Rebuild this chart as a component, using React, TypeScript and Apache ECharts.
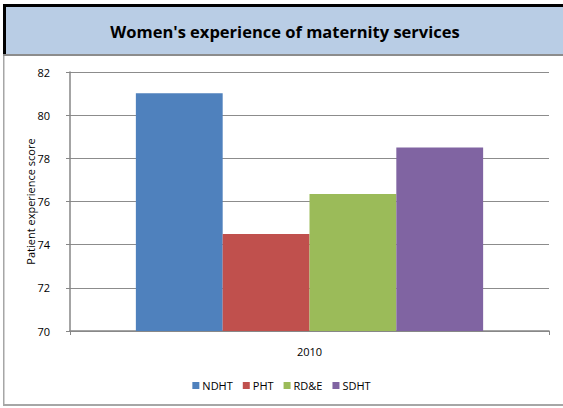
import React, { useEffect, useRef } from "react";
import * as echarts from "echarts";

const categories = ["2010"];
const seriesNames = ["NDHT", "PHT", "RD&E", "SDHT"];
const seriesValues = [[81.02], [74.5], [76.35], [78.5]];
const seriesColors = ["#4f81bd", "#c0504d", "#9bbb59", "#8064a2"];
const titleText = "Women's experience of maternity services";
const yAxisName = "Patient experience score";

export default function App() {
  const ref = useRef<HTMLDivElement>(null);
  useEffect(() => {
    if (!ref.current) return;
    const chart = echarts.init(ref.current, undefined, { renderer: "svg" });
    const font = "'Open Sans', 'Noto Sans', sans-serif";
    chart.setOption({
      animation: false,
      backgroundColor: "#ffffff",
      textStyle: { fontFamily: font },
      graphic: [
        { type: "rect", shape: { x: 4, y: 6, width: 559, height: 49 }, style: { fill: "#b9cde5" } },
        { type: "rect", shape: { x: 3, y: 4, width: 560, height: 3 }, style: { fill: "#000000" } },
        { type: "rect", shape: { x: 3, y: 4, width: 3, height: 51 }, style: { fill: "#000000" } },
        { type: "rect", shape: { x: 3, y: 54, width: 560, height: 2 }, style: { fill: "#8c8c8c" } },
        { type: "rect", shape: { x: 3, y: 56, width: 1.5, height: 350 }, style: { fill: "#a6a6a6" } },
        { type: "rect", shape: { x: 3, y: 404, width: 560, height: 2 }, style: { fill: "#a6a6a6" } },
        {
          type: "text",
          x: 285,
          y: 31,
          style: {
            text: titleText,
            font: "bold 16.5px 'Open Sans', sans-serif",
            fill: "#000000",
            align: "center",
            verticalAlign: "middle",
          },
        },
      ],
      legend: {
        data: seriesNames,
        bottom: 12,
        left: "center",
        itemWidth: 7,
        itemHeight: 7,
        itemGap: 10,
        icon: "rect",
        textStyle: { fontSize: 11, color: "#000", fontFamily: font, padding: [0, 0, 0, -2] },
      },
      grid: { left: 70, right: 14, top: 72, bottom: 77 },
      xAxis: {
        type: "category",
        data: categories,
        axisLine: { lineStyle: { color: "#868686", width: 1.5 } },
        axisTick: { show: true, length: 4, lineStyle: { color: "#868686" } },
        axisLabel: { fontSize: 11, color: "#000", margin: 15, fontFamily: font },
      },
      yAxis: {
        type: "value",
        min: 70,
        max: 82,
        interval: 2,
        name: yAxisName,
        nameLocation: "middle",
        nameGap: 34,
        nameMoveOverlap: false,
        nameTextStyle: { fontSize: 11, color: "#000", fontFamily: font },
        axisLine: { show: true, lineStyle: { color: "#868686", width: 1.5 } },
        axisTick: { show: true, length: 4, lineStyle: { color: "#868686" } },
        axisLabel: { fontSize: 11, color: "#000", margin: 20, fontFamily: font },
        splitLine: { lineStyle: { color: "#8c8c8c", width: 1 } },
      },
      series: seriesNames.map((name, i) => ({
        name,
        type: "bar",
        data: seriesValues[i],
        barGap: "0%",
        barCategoryGap: "27.5%",
        itemStyle: { color: seriesColors[i] },
      })),
    });
    return () => chart.dispose();
  }, []);
  return (
    <div
      ref={ref}
      style={{ position: "fixed", left: 0, top: 0, width: 563, height: 408 }}
    />
  );
}
